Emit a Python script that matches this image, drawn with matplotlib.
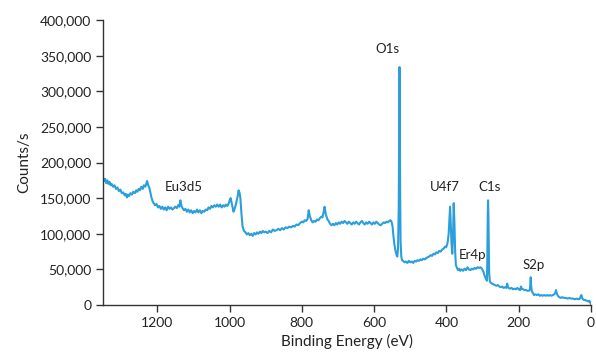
import matplotlib.pyplot as plt
from matplotlib.ticker import FuncFormatter

plt.rcParams['font.family'] = ['Lato', 'DejaVu Sans']

# XPS survey spectrum (eV, counts/s in thousands)
binding_energy = [
    1350, 1347, 1344, 1341, 1338, 1335, 1332, 1329, 1326, 1322, 1318, 1314, 1310, 1306,
    1302, 1298, 1294, 1290, 1287, 1284, 1281, 1278, 1274, 1270, 1266, 1262, 1258, 1255,
    1251, 1248, 1244, 1240, 1237, 1233, 1230, 1228, 1225, 1222, 1219, 1216, 1213, 1210,
    1206, 1202, 1198, 1194, 1190, 1186, 1182, 1178, 1174, 1170, 1166, 1162, 1158, 1154,
    1150, 1146, 1142, 1139, 1136, 1133, 1130, 1126, 1122, 1118, 1114, 1110, 1106, 1102,
    1098, 1094, 1090, 1086, 1082, 1078, 1074, 1070, 1066, 1062, 1058, 1054, 1050, 1046,
    1042, 1038, 1034, 1030, 1026, 1022, 1018, 1014, 1010, 1006, 1002, 999, 997, 994,
    992, 989, 986, 983, 980, 977, 975, 972, 970, 967, 964, 960, 956, 952, 948, 944,
    940, 936, 932, 928, 924, 920, 916, 912, 908, 904, 900, 895, 890, 885, 880, 875,
    870, 865, 860, 855, 850, 845, 840, 835, 830, 825, 820, 815, 810, 805, 800, 796,
    792, 788, 784, 781, 778, 774, 770, 766, 762, 758, 754, 750, 746, 743, 740, 737,
    734, 730, 726, 722, 718, 714, 710, 706, 702, 698, 694, 690, 686, 682, 678, 674,
    670, 666, 662, 658, 654, 650, 646, 642, 638, 634, 630, 626, 622, 618, 614, 610,
    606, 602, 598, 594, 590, 586, 582, 578, 574, 570, 566, 562, 558, 555, 552, 549,
    547, 544, 541, 538, 536, 534, 532, 531, 530, 529, 528, 527, 525, 523, 520, 516,
    512, 508, 504, 500, 496, 492, 488, 484, 480, 476, 472, 468, 464, 460, 456, 452,
    448, 444, 440, 436, 432, 428, 424, 420, 416, 412, 408, 404, 401, 398, 396, 394,
    392, 390, 388, 386, 384, 382, 380, 378, 376, 374, 371, 368, 365, 362, 358, 354,
    350, 346, 342, 338, 334, 330, 326, 322, 318, 314, 310, 306, 302, 298, 295, 292,
    290, 288, 287, 286, 285, 284, 283, 282, 280, 277, 274, 270, 266, 262, 258, 254,
    250, 246, 242, 238, 234, 232, 230, 228, 224, 220, 216, 212, 208, 204, 200, 196,
    194, 192, 188, 184, 180, 176, 172, 169, 168, 167, 166, 164, 161, 158, 154, 150,
    146, 142, 138, 134, 130, 126, 122, 118, 114, 110, 106, 102, 99, 97, 95, 92,
    88, 84, 80, 75, 70, 65, 60, 55, 50, 45, 40, 35, 31, 29, 27, 24,
    20, 16, 12, 8, 5, 3, 1, 0,
]
counts_k = [
    179, 174, 177, 171, 175, 170, 173, 168, 170, 166, 168, 163, 165, 160,
    162, 157, 158, 154, 156, 151, 155, 153, 157, 155, 159, 157, 161, 159,
    163, 161, 166, 163, 168, 166, 171, 174, 168, 165, 158, 151, 146, 143,
    140, 142, 137, 139, 135, 138, 134, 137, 133, 138, 135, 137, 134, 136,
    138, 136, 140, 138, 147, 139, 136, 133, 135, 131, 134, 130, 133, 129,
    132, 130, 134, 130, 133, 129, 132, 131, 134, 133, 137, 135, 139, 137,
    140, 138, 141, 138, 141, 137, 140, 138, 141, 139, 143, 148, 150, 143,
    138, 131, 135, 140, 147, 154, 161, 157, 150, 128, 110, 104, 102, 99, 101, 98,
    100, 97, 101, 99, 102, 100, 103, 101, 104, 102, 103, 101, 104, 102, 106, 104,
    105, 107, 105, 108, 106, 109, 108, 110, 109, 111, 110, 113, 112, 115, 117, 116,
    119, 118, 121, 133, 125, 119, 116, 118, 117, 120, 119, 122, 124, 123, 130, 138,
    128, 121, 118, 114, 112, 114, 112, 115, 113, 116, 114, 117, 115, 118, 116, 114,
    117, 115, 113, 116, 114, 117, 115, 113, 116, 118, 115, 113, 116, 114, 117, 115,
    113, 116, 114, 117, 115, 113, 112, 114, 116, 115, 117, 116, 118, 119, 117, 110,
    98, 85, 76, 70, 68, 80, 140, 230, 334, 260, 150, 90, 68, 63, 62, 60,
    61, 59, 62, 60, 61, 59, 62, 61, 63, 62, 64, 63, 65, 64, 66, 67,
    68, 70, 69, 72, 71, 74, 73, 76, 75, 78, 79, 82, 81, 85, 91, 100,
    118, 138, 110, 85, 72, 95, 143, 115, 75, 56, 52, 49, 51, 48, 50, 48,
    51, 49, 53, 50, 49, 51, 50, 52, 51, 53, 52, 53, 51, 47, 42, 38,
    36, 34, 70, 120, 147, 125, 80, 45, 33, 31, 30, 29, 28, 27, 28, 26,
    25, 26, 24, 25, 24, 30, 25, 24, 23, 24, 22, 23, 22, 24, 22, 21,
    26, 23, 22, 21, 21, 20, 20, 22, 30, 39, 28, 19, 17, 14, 15, 14,
    15, 13, 14, 13, 14, 13, 14, 13, 14, 13, 14, 15, 17, 21, 16, 13,
    11, 10, 11, 10, 10, 9, 10, 9, 9, 8, 9, 8, 9, 12, 14, 9,
    7, 7, 6, 5, 6, 4, 2, 0,
]
counts = [c * 1000 for c in counts_k]

peak_labels = ['O1s', 'Eu3d5', 'U4f7', 'C1s', 'Er4p', 'S2p']
label_x = [562, 1127, 404, 280, 327, 160]
label_y = [360000, 166000, 166000, 166000, 70000, 56000]

fig = plt.figure(figsize=(5.96, 3.58), dpi=100)
ax = fig.add_axes([0.1728, 0.148, 0.819, 0.796])

ax.plot(binding_energy, counts, color='#2a9fdb', linewidth=1.5)

for name, lx, ly in zip(peak_labels, label_x, label_y):
    ax.text(lx, ly, name, ha='center', va='center', fontsize=9.5, color='#222222')

ax.set_xlim(1350, 0)
ax.set_ylim(0, 400000)
ax.set_xticks([1200, 1000, 800, 600, 400, 200, 0])
ax.set_yticks(range(0, 400001, 50000))
ax.yaxis.set_major_formatter(FuncFormatter(lambda v, p: f'{int(v):,}'))

ax.set_xlabel('Binding Energy (eV)', fontsize=11, color='#222222', labelpad=4)
ax.set_ylabel('Counts/s', fontsize=11, color='#222222', labelpad=6)

for side in ['top', 'right']:
    ax.spines[side].set_visible(False)
for side in ['left', 'bottom']:
    ax.spines[side].set_color('#333333')
    ax.spines[side].set_linewidth(1.0)
ax.tick_params(direction='out', length=5, width=1, color='#333333',
               labelsize=10, labelcolor='#222222')

fig.savefig('out.png', dpi=100)
